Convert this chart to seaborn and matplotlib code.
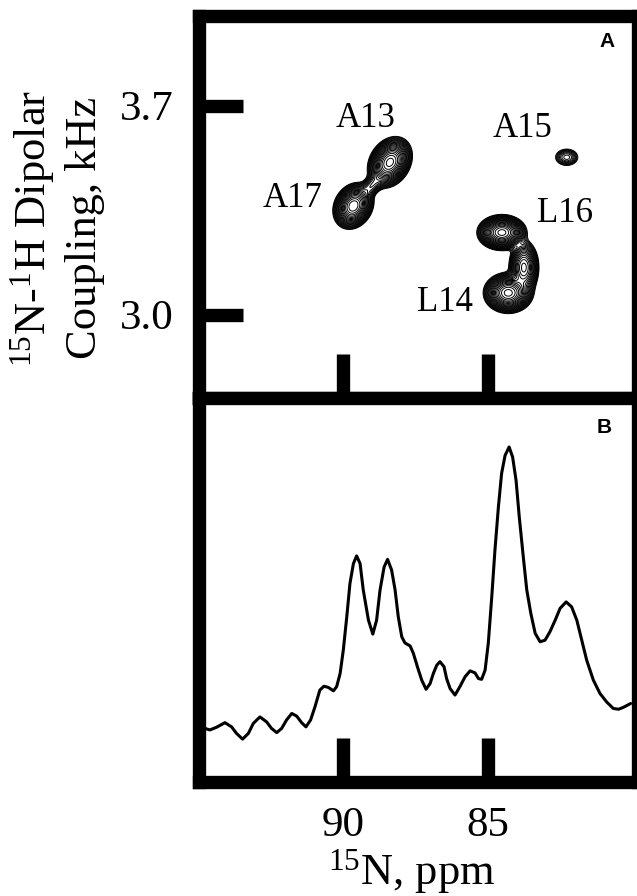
import numpy as np
import pandas as pd
import matplotlib
matplotlib.use("Agg")
import matplotlib.pyplot as plt
import seaborn as sns

# ---------------- data ----------------
# Panel B: 1D 15N spectrum (digitized)
ppm_1d = [94.78, 94.61, 94.38, 94.09, 93.86, 93.69, 93.48, 93.28, 93.11, 92.88,
          92.65, 92.48, 92.30, 92.13, 91.96, 91.78, 91.61, 91.44, 91.29, 91.13,
          90.98, 90.81, 90.67, 90.52, 90.34, 90.23, 90.11, 90.00, 89.88, 89.77,
          89.65, 89.54, 89.42, 89.31, 89.13, 88.98, 88.85, 88.73, 88.59, 88.47,
          88.33, 88.21, 88.10, 87.98, 87.87, 87.69, 87.58, 87.44, 87.29, 87.14,
          87.00, 86.89, 86.77, 86.66, 86.52, 86.43, 86.31, 86.14, 85.97, 85.79,
          85.62, 85.45, 85.33, 85.22, 85.10, 84.99, 84.87, 84.76, 84.64, 84.53,
          84.41, 84.27, 84.15, 84.03, 83.92, 83.78, 83.66, 83.52, 83.37, 83.20,
          83.03, 82.86, 82.68, 82.51, 82.30, 82.11, 81.93, 81.76, 81.59, 81.36,
          81.13, 80.90, 80.67, 80.49, 80.32, 80.07]
intensity_1d = [13.9, 13.5, 14.2, 15.4, 14.3, 12.6, 11.1, 12.6, 15.2, 16.9,
                15.6, 13.9, 12.8, 13.9, 16.1, 17.8, 17.1, 15.4, 14.3, 16.1,
                19.5, 23.9, 24.9, 24.6, 23.7, 24.8, 28.2, 34.3, 43.0, 51.7,
                56.9, 58.9, 56.9, 50.0, 42.1, 38.5, 42.1, 50.0, 56.0, 58.0,
                55.2, 50.0, 43.0, 37.8, 36.2, 35.4, 33.5, 30.0, 26.5, 24.1,
                25.6, 28.2, 30.4, 31.3, 30.0, 26.9, 24.3, 22.6, 24.8, 27.4,
                28.9, 28.4, 26.9, 26.7, 29.1, 36.1, 48.2, 60.4, 71.7, 80.4,
                85.1, 87.3, 84.7, 78.6, 69.1, 58.6, 50.0, 43.9, 38.7, 36.5,
                36.9, 39.1, 42.1, 45.2, 46.9, 45.6, 42.1, 36.9, 31.7, 26.5,
                23.0, 20.8, 19.1, 18.9, 19.4, 20.4]

# Panel A: 2D cross peaks (position, amplitude, widths, correlation)
peak_ppm      = [88.39, 89.65, 89.01, 82.28, 84.52, 84.30, 83.76]
peak_khz      = [3.510, 3.364, 3.433, 3.527, 3.275, 3.073, 3.158]
peak_amp      = [1.00, 0.90, 0.12, 0.08, 1.00, 1.00, 0.45]
peak_sig_ppm  = [0.270, 0.250, 0.220, 0.210, 0.300, 0.300, 0.200]
peak_sig_khz  = [0.0300, 0.0275, 0.022, 0.015, 0.021, 0.024, 0.035]
peak_rho      = [-0.25, -0.2, -0.6, 0.0, 0.0, 0.0, 0.0]

# Panel A: assignment labels
label_text = ["A13", "A15", "A17", "L16", "L14"]
label_ppm  = [89.215, 83.82, 91.74, 82.34, 86.48]
label_khz  = [3.627, 3.594, 3.360, 3.309, 3.011]

x_ticks = [90, 85]
x_ticklabels = ["90", "85"]
y_ticks = [3.0, 3.7]
y_ticklabels = ["3.0", "3.7"]

# ---------------- style ----------------
sns.set_theme(style="white")
plt.rcParams["font.family"] = ["Liberation Serif", "DejaVu Serif"]
plt.rcParams["mathtext.fontset"] = "custom"
plt.rcParams["mathtext.rm"] = "Liberation Serif"
plt.rcParams["mathtext.it"] = "Liberation Serif:italic"
plt.rcParams["mathtext.bf"] = "Liberation Serif:bold"
for key in ("text.color", "axes.labelcolor", "xtick.color", "ytick.color",
            "xtick.labelcolor", "ytick.labelcolor", "axes.edgecolor"):
    plt.rcParams[key] = "black"

W, H = 637, 896
fig = plt.figure(figsize=(W / 100, H / 100), dpi=100)
fig.patch.set_facecolor("white")

def px_axes(left, top, right, bottom):
    return [left / W, 1 - bottom / H, (right - left) / W, (bottom - top) / H]

axA = fig.add_axes(px_axes(199, 16, 637.5, 398.3))
axB = fig.add_axes(px_axes(199, 398.3, 637.5, 781.7))

XLIM = (94.986, 79.834)
SPINE_LW = 9.6
TICK_LEN = 31.5
TICK_FS = 31

for ax in (axA, axB):
    ax.set_facecolor("white")
    ax.set_xlim(*XLIM)
    for s in ax.spines.values():
        s.set_visible(True)
        s.set_linewidth(SPINE_LW)
        s.set_color("black")
    ax.set_xticks(x_ticks)
    ax.tick_params(axis="both", which="major", direction="in", length=TICK_LEN,
                   width=SPINE_LW, color="black", labelcolor="black",
                   labelsize=TICK_FS, pad=18, bottom=True, left=True,
                   top=False, right=False)
    ax.grid(False)

# ---- Panel A: contour plot ----
gx = np.linspace(XLIM[1], XLIM[0], 800)
gy = np.linspace(2.72, 4.0, 800)
GX, GY = np.meshgrid(gx, gy)
Z = np.zeros_like(GX)
for p, k, a, sp, sk, r in zip(peak_ppm, peak_khz, peak_amp, peak_sig_ppm, peak_sig_khz, peak_rho):
    u = (GX - p) / sp
    v = (GY - k) / sk
    Z += a * np.exp(-(u * u - 2 * r * u * v + v * v) / (2 * (1 - r * r)))
levels = np.geomspace(0.015, 0.9, 22)
axA.contour(GX, GY, Z, levels=levels, colors="black", linewidths=0.7)

axA.set_ylim(2.72, 4.0)
axA.set_yticks(y_ticks)
axA.set_yticklabels(y_ticklabels)
axA.tick_params(axis="x", labelbottom=False)
for t, p, k in zip(label_text, label_ppm, label_khz):
    axA.text(p, k, t, ha="center", va="baseline", fontsize=25,
             family="Liberation Serif", color="black")
axA.text(0.930, 0.9197, "A", transform=axA.transAxes, ha="center", va="baseline",
         fontsize=15, fontweight="bold", family="Liberation Sans", color="black")

# ---- Panel B: 1D spectrum ----
df = pd.DataFrame({"ppm": ppm_1d, "intensity": intensity_1d})
sns.lineplot(data=df, x="ppm", y="intensity", ax=axB, color="black",
             linewidth=2.2, estimator=None, sort=False)
axB.set_xlim(*XLIM)
axB.set_ylim(0, 100)
axB.set_yticks([])
axB.set_xticks(x_ticks)
axB.set_xticklabels(x_ticklabels)
axB.set_xlabel("")
axB.set_ylabel("")
axB.text(0.924, 0.9087, "B", transform=axB.transAxes, ha="center", va="baseline",
         fontsize=15, fontweight="bold", family="Liberation Sans", color="black")

# ---- axis titles ----
fig.text(57 / W, 1 - 228 / H,
         "$^{\\mathrm{15}}$N-$^{\\mathrm{1}}$H Dipolar\nCoupling, kHz",
         rotation=90, ha="center", va="center", multialignment="center",
         fontsize=32, linespacing=1.25, color="black")
fig.text(412 / W, 1 - 884 / H, "$^{\\mathrm{15}}$N, ppm", ha="center",
         va="baseline", fontsize=32, color="black")

fig.savefig("out.png", dpi=100, facecolor="white")
